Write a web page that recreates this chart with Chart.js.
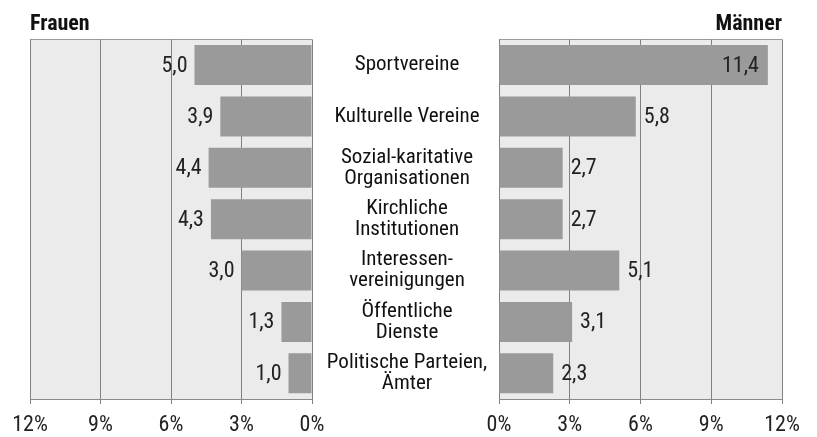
<!DOCTYPE html>
<html lang="de">
<head>
    <meta charset="UTF-8">
    <script src="https://cdn.jsdelivr.net/npm/chart.js"></script>
    <style>
        body {
            margin: 0;
            background: #fff;
            width: 817px;
            height: 437px;
            overflow: hidden;
            position: relative;
        }
        canvas {
            position: absolute;
            top: 0;
            left: 0;
        }
    </style>
</head>
<body>
    <canvas id="leftChart" width="330" height="437"></canvas>
    <canvas id="rightChart" width="817" height="437"></canvas>
    <script>
        // data
        const categories = [
            ['Sportvereine'],
            ['Kulturelle Vereine'],
            ['Sozial-karitative', 'Organisationen'],
            ['Kirchliche', 'Institutionen'],
            ['Interessen-', 'vereinigungen'],
            ['Öffentliche', 'Dienste'],
            ['Politische Parteien,', 'Ämter']
        ];
        const frauen = [5.0, 3.9, 4.4, 4.3, 3.0, 1.3, 1.0];
        const maenner = [11.4, 5.8, 2.7, 2.7, 5.1, 3.1, 2.3];
        const axisTicks = [0, 3, 6, 9, 12];

        const FONT = "'Roboto Condensed', 'DejaVu Sans Condensed', sans-serif";
        const LABEL_SIZE = 21;
        const LABEL_CENTER = 407;   // x of the centre column
        const RIGHT_ZERO = 499;     // x of 0% on the Männer panel

        const fmt = v => v.toFixed(1).replace('.', ',');

        // light grey plot background + top border
        const plotBg = {
            id: 'plotBg',
            beforeDraw(chart) {
                const { ctx, chartArea: a } = chart;
                ctx.save();
                ctx.fillStyle = '#ebebeb';
                ctx.fillRect(a.left, a.top, a.right - a.left, a.bottom - a.top);
                ctx.strokeStyle = '#9a9a9a';
                ctx.lineWidth = 1;
                ctx.beginPath();
                ctx.moveTo(a.left, Math.round(a.top) + 0.5);
                ctx.lineTo(a.right, Math.round(a.top) + 0.5);
                ctx.stroke();
                ctx.restore();
            }
        };

        // value labels next to / inside bars
        const valueLabels = {
            id: 'valueLabels',
            afterDatasetsDraw(chart, args, opts) {
                const { ctx } = chart;
                const meta = chart.getDatasetMeta(0);
                const data = chart.data.datasets[0].data;
                ctx.save();
                ctx.font = '22px ' + FONT;
                ctx.fillStyle = '#222';
                ctx.textBaseline = 'middle';
                meta.data.forEach((bar, i) => {
                    const v = data[i];
                    if (opts.side === 'left') {
                        ctx.textAlign = 'right';
                        ctx.fillText(fmt(v), bar.x - 7, bar.y + 1);
                    } else if (v > 10) {
                        ctx.textAlign = 'right';
                        ctx.fillText(fmt(v), bar.x - 9, bar.y + 1);
                    } else {
                        ctx.textAlign = 'left';
                        ctx.fillText(fmt(v), bar.x + 8, bar.y + 1);
                    }
                });
                ctx.restore();
            }
        };

        function xScale(reverse) {
            return {
                type: 'linear',
                reverse: reverse,
                min: 0,
                max: 12,
                afterBuildTicks: s => { s.ticks = axisTicks.map(v => ({ value: v })); },
                afterFit: s => { s.height = 38; },
                ticks: {
                    callback: v => v + '%',
                    font: { size: 22 },
                    color: '#222',
                    padding: 8,
                    maxRotation: 0
                },
                grid: {
                    color: '#808080',
                    tickLength: 5
                },
                border: { color: '#8a8a8a' }
            };
        }

        function barDataset(values) {
            return {
                data: values,
                backgroundColor: '#9a9a9a',
                borderWidth: 0,
                categoryPercentage: 1,
                barPercentage: 0.78
            };
        }

        function titleOpts(text, align) {
            return {
                display: true,
                text: text,
                align: align,
                color: '#111',
                font: { size: 22, weight: 'bold', lineHeight: 1.2 },
                padding: { top: 11, bottom: 2 }
            };
        }

        function build() {
            Chart.defaults.font.family = FONT;
            Chart.defaults.color = '#222';

            // widest centre label, so the column can be centred on LABEL_CENTER
            const m = document.createElement('canvas').getContext('2d');
            m.font = LABEL_SIZE + 'px ' + FONT;
            let widest = 0;
            categories.forEach(lines => lines.forEach(t => {
                widest = Math.max(widest, m.measureText(t).width);
            }));
            const labelPad = (RIGHT_ZERO - LABEL_CENTER) - widest / 2;

            new Chart(document.getElementById('leftChart'), {
                type: 'bar',
                data: {
                    labels: categories,
                    datasets: [barDataset(frauen)]
                },
                options: {
                    indexAxis: 'y',
                    responsive: false,
                    animation: false,
                    devicePixelRatio: 1,
                    layout: { padding: { left: 30, right: 18, top: 0, bottom: 0 } },
                    scales: {
                        x: xScale(true),
                        y: { display: false }
                    },
                    plugins: {
                        legend: { display: false },
                        tooltip: { enabled: false },
                        title: titleOpts('Frauen', 'start'),
                        valueLabels: { side: 'left' }
                    }
                },
                plugins: [plotBg, valueLabels]
            });

            new Chart(document.getElementById('rightChart'), {
                type: 'bar',
                data: {
                    labels: categories,
                    datasets: [barDataset(maenner)]
                },
                options: {
                    indexAxis: 'y',
                    responsive: false,
                    animation: false,
                    devicePixelRatio: 1,
                    layout: { padding: { left: 0, right: 35, top: 0, bottom: 0 } },
                    scales: {
                        x: xScale(false),
                        y: {
                            position: 'left',
                            afterFit: s => { s.width = RIGHT_ZERO; },
                            grid: { display: false, drawTicks: false },
                            border: { display: false },
                            ticks: {
                                crossAlign: 'center',
                                padding: labelPad,
                                color: '#111',
                                font: { size: LABEL_SIZE, lineHeight: 1.0 }
                            }
                        }
                    },
                    plugins: {
                        legend: { display: false },
                        tooltip: { enabled: false },
                        title: titleOpts('Männer', 'end'),
                        valueLabels: { side: 'right' }
                    }
                },
                plugins: [plotBg, valueLabels]
            });
        }

        document.fonts.load('22px "Roboto Condensed"').then(build, build);
    </script>
</body>
</html>
